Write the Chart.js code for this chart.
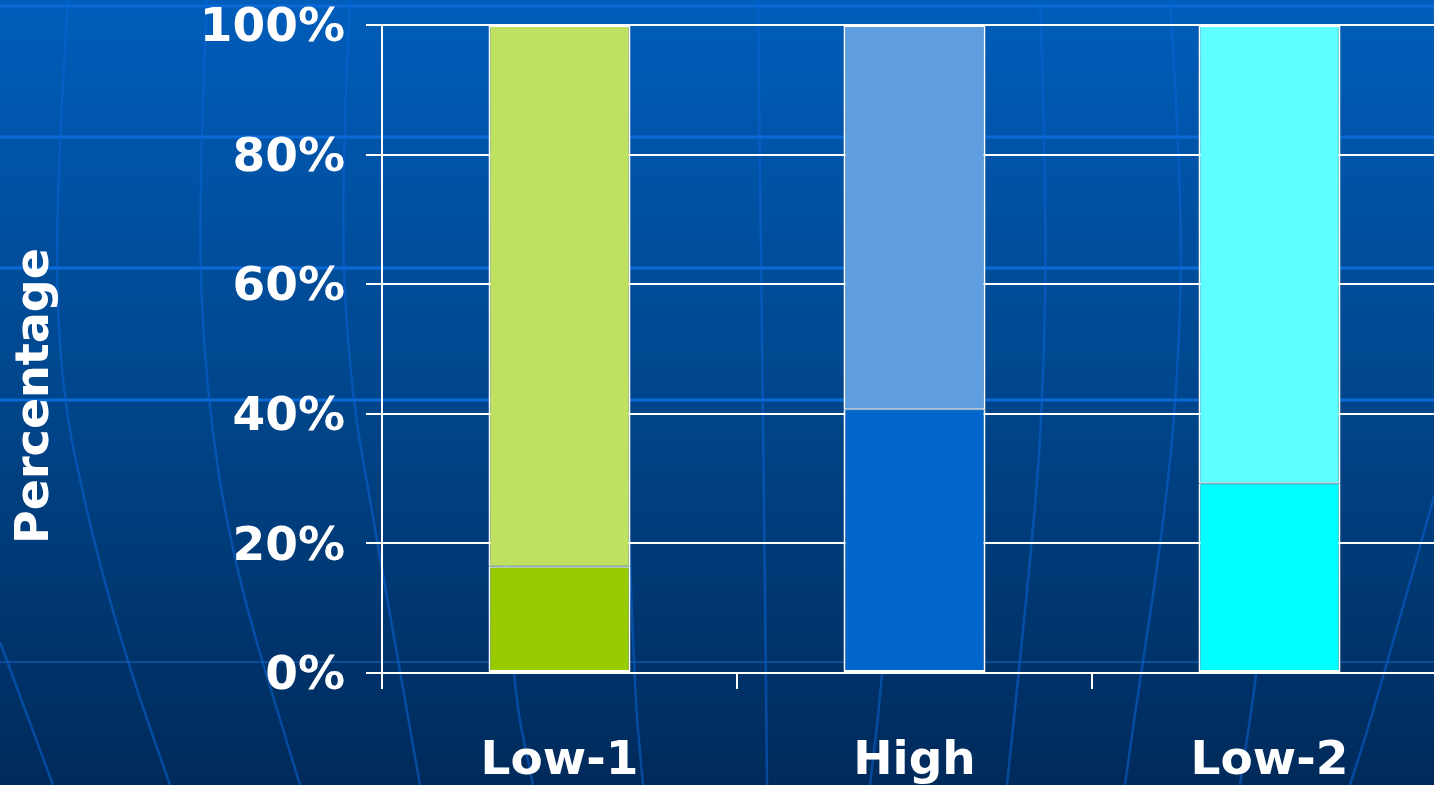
<!DOCTYPE html>
<html>
<head>
<meta charset="utf-8">
<script src="https://cdn.jsdelivr.net/npm/chart.js@4/dist/chart.umd.min.js"></script>
<style>
  html, body { margin: 0; padding: 0; overflow: hidden; background: #003a78; }
  canvas { display: block; }
</style>
</head>
<body>
<canvas id="chart" width="1450" height="785"></canvas>
<script>
const categories = ['Low-1', 'High', 'Low-2'];
const lowerValues = [16.4, 40.7, 29.3];
const upperValues = [83.6, 59.3, 70.7];
const lowerColors = ['#99cc00', '#0066cc', '#00ffff'];
const upperColors = ['#c0e060', '#5f9fdf', '#60ffff'];
const yTicks = [0, 20, 40, 60, 80, 100];
const yTitle = 'Percentage';

const font = { family: '"DejaVu Sans", Verdana, sans-serif', weight: 'bold' };

// slide-style backdrop: gradient, faint bands and globe meridians
const backdrop = {
  id: 'backdrop',
  beforeDraw(chart) {
    const { ctx, width, height } = chart;
    ctx.save();
    const g = ctx.createLinearGradient(0, 0, 0, height);
    g.addColorStop(0, '#005dba');
    g.addColorStop(0.5, '#00468c');
    g.addColorStop(1, '#002a5a');
    ctx.fillStyle = g;
    ctx.fillRect(0, 0, width, height);

    ctx.strokeStyle = '#0a6ad8';
    ctx.lineWidth = 3;
    [6, 137, 268, 400].forEach(y => {
      ctx.beginPath(); ctx.moveTo(0, y); ctx.lineTo(width, y); ctx.stroke();
    });
    ctx.strokeStyle = 'rgba(20,90,170,0.7)';
    ctx.lineWidth = 2;
    ctx.beginPath(); ctx.moveTo(0, 662); ctx.lineTo(width, 662); ctx.stroke();

    const meridians = [
      [[68, 0], [55, 200], [60, 385], [90, 528], [127, 662], [170, 785]],
      [[0, 642], [53, 785]],
      [[207, 0], [198, 200], [205, 385], [233, 565], [300, 785]],
      [[350, 0], [340, 200], [350, 385], [373, 518], [420, 785]],
      [[495, 400], [510, 673], [533, 785]],
      [[625, 400], [633, 675], [643, 785]],
      [[758, 0], [763, 400], [767, 785]],
      [[895, 500], [883, 675], [870, 785]],
      [[1040, 0], [1047, 200], [1043, 400], [1033, 535], [1007, 785]],
      [[1170, 0], [1183, 200], [1178, 380], [1163, 530], [1137, 700], [1125, 785]],
      [[1265, 600], [1257, 673], [1240, 785]],
      [[1450, 440], [1377, 700], [1350, 785]]
    ];
    ctx.strokeStyle = 'rgba(10,100,215,0.55)';
    ctx.lineWidth = 2.5;
    meridians.forEach(pts => {
      ctx.beginPath();
      ctx.moveTo(pts[0][0], pts[0][1]);
      for (let i = 1; i < pts.length - 1; i++) {
        const mx = (pts[i][0] + pts[i + 1][0]) / 2;
        const my = (pts[i][1] + pts[i + 1][1]) / 2;
        ctx.quadraticCurveTo(pts[i][0], pts[i][1], mx, my);
      }
      const last = pts[pts.length - 1];
      ctx.lineTo(last[0], last[1]);
      ctx.stroke();
    });
    ctx.restore();
  }
};

// y title sits a little below the middle of the axis, as on the slide
const axisTitle = {
  id: 'axisTitle',
  afterDraw(chart) {
    const { ctx, chartArea } = chart;
    ctx.save();
    ctx.translate(36, (chartArea.top + chartArea.bottom) / 2 + 47);
    ctx.rotate(-Math.PI / 2);
    ctx.fillStyle = '#ffffff';
    ctx.font = `bold 46px ${font.family}`;
    ctx.textAlign = 'center';
    ctx.textBaseline = 'middle';
    ctx.fillText(yTitle, 0, 0);
    ctx.restore();
  }
};

new Chart(document.getElementById('chart'), {
  type: 'bar',
  plugins: [backdrop, axisTitle],
  data: {
    labels: categories,
    datasets: [
      {
        label: 'lower',
        data: lowerValues,
        backgroundColor: lowerColors,
        borderColor: '#ffffff',
        borderWidth: { left: 2, right: 2, top: 1, bottom: 2 },
        borderSkipped: false
      },
      {
        label: 'upper',
        data: upperValues,
        backgroundColor: upperColors,
        borderColor: '#ffffff',
        borderWidth: { left: 2, right: 2, top: 2, bottom: 1 },
        borderSkipped: false
      }
    ]
  },
  options: {
    responsive: false,
    animation: false,
    layout: { padding: { top: 0, right: 3, left: 0, bottom: 0 } },
    plugins: {
      legend: { display: false },
      tooltip: { enabled: false }
    },
    datasets: {
      bar: { categoryPercentage: 1, barPercentage: 0.4 }
    },
    scales: {
      x: {
        stacked: true,
        grid: {
          offset: true,
          drawOnChartArea: false,
          drawTicks: true,
          tickLength: 16,
          color: '#ffffff',
          lineWidth: 2
        },
        border: { display: true, color: '#ffffff', width: 2 },
        ticks: {
          color: '#ffffff',
          padding: 45,
          font: { ...font, size: 47, lineHeight: 1.2 },
          maxRotation: 0
        },
        afterFit(scale) { scale.height = 112; }
      },
      y: {
        stacked: true,
        min: 0,
        max: 100,
        afterBuildTicks(scale) { scale.ticks = yTicks.map(v => ({ value: v })); },
        grid: {
          color: '#ffffff',
          lineWidth: 2,
          tickLength: 16
        },
        border: { display: true, color: '#ffffff', width: 2 },
        ticks: {
          color: '#ffffff',
          padding: 21,
          labelOffset: 4,
          font: { ...font, size: 47, lineHeight: 1.05 },
          callback: v => v + '%'
        },
        afterFit(scale) {
          scale.width = 382;
          scale.paddingTop = 25;
        }
      }
    }
  }
});
</script>
</body>
</html>
